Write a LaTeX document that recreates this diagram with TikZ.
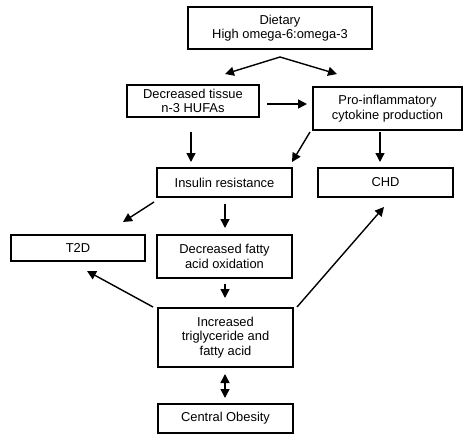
\documentclass[tikz,border=0pt]{standalone}
\usepackage{fontspec}
\setmainfont{Liberation Sans}
\usetikzlibrary{arrows.meta}
\begin{document}
\begin{tikzpicture}[x=1pt,y=-1pt,
  box/.style={draw,line width=1.3pt,inner sep=0pt,align=center,font=\fontsize{12.9}{14.5}\selectfont},
  arr/.style={line width=1.4pt,-{Triangle[length=9pt,width=9pt]}},
  darr/.style={line width=1.4pt,{Triangle[length=9pt,width=9pt]}-{Triangle[length=9pt,width=9pt]}}]
\useasboundingbox (0,0) rectangle (474,444);
\node[box,minimum width=184pt,minimum height=42pt] (diet) at (280,28) {Dietary\\High omega-6:omega-3};
\node[box,minimum width=132pt,minimum height=32pt] (tissue) at (193,101) {Decreased tissue\\n-3 HUFAs};
\node[box,minimum width=149pt,minimum height=43pt] (pro) at (387.5,108.5) {Pro-inflammatory\\cytokine production};
\node[box,minimum width=135pt,minimum height=29pt] (ins) at (224.5,182.5) {Insulin resistance};
\node[box,minimum width=135pt,minimum height=29pt] (chd) at (385.5,182.5) {CHD};
\node[box,minimum width=134pt,minimum height=26pt] (t2d) at (78,248) {T2D};
\node[box,minimum width=135pt,minimum height=43pt] (dfa) at (224.5,256.5) {Decreased fatty\\acid oxidation};
\node[box,minimum width=135pt,minimum height=59pt] (inc) at (225.5,337.5) {Increased\\triglyceride and\\fatty acid};
\node[box,minimum width=135pt,minimum height=29pt] (ob) at (225.5,418.5) {Central Obesity};
% free ends
\coordinate (apex) at (280,57);
\coordinate (a1) at (225,74);
\coordinate (a2) at (337,74);
\coordinate (b1) at (267,104);
\coordinate (b2) at (307,104);
\coordinate (c1) at (191,132);
\coordinate (c2) at (191,162);
\coordinate (d1) at (310,132);
\coordinate (d2) at (292,162);
\coordinate (e1) at (380,132);
\coordinate (e2) at (380,162);
\coordinate (f1) at (154,202);
\coordinate (f2) at (123,222);
\coordinate (g1) at (225,204);
\coordinate (g2) at (225,228);
\coordinate (h1) at (225,284);
\coordinate (h2) at (225,298);
\coordinate (i1) at (153,307);
\coordinate (i2) at (87,271);
\coordinate (j1) at (297,307);
\coordinate (j2) at (384,207);
\coordinate (k1) at (225,374);
\coordinate (k2) at (225,398);
\draw[arr] (apex) -- (a1);
\draw[arr] (apex) -- (a2);
\draw[arr] (b1) -- (b2);
\draw[arr] (c1) -- (c2);
\draw[arr] (d1) -- (d2);
\draw[arr] (e1) -- (e2);
\draw[arr] (f1) -- (f2);
\draw[arr] (g1) -- (g2);
\draw[arr] (h1) -- (h2);
\draw[arr] (i1) -- (i2);
\draw[arr] (j1) -- (j2);
\draw[darr] (k1) -- (k2);
\end{tikzpicture}
\end{document}
